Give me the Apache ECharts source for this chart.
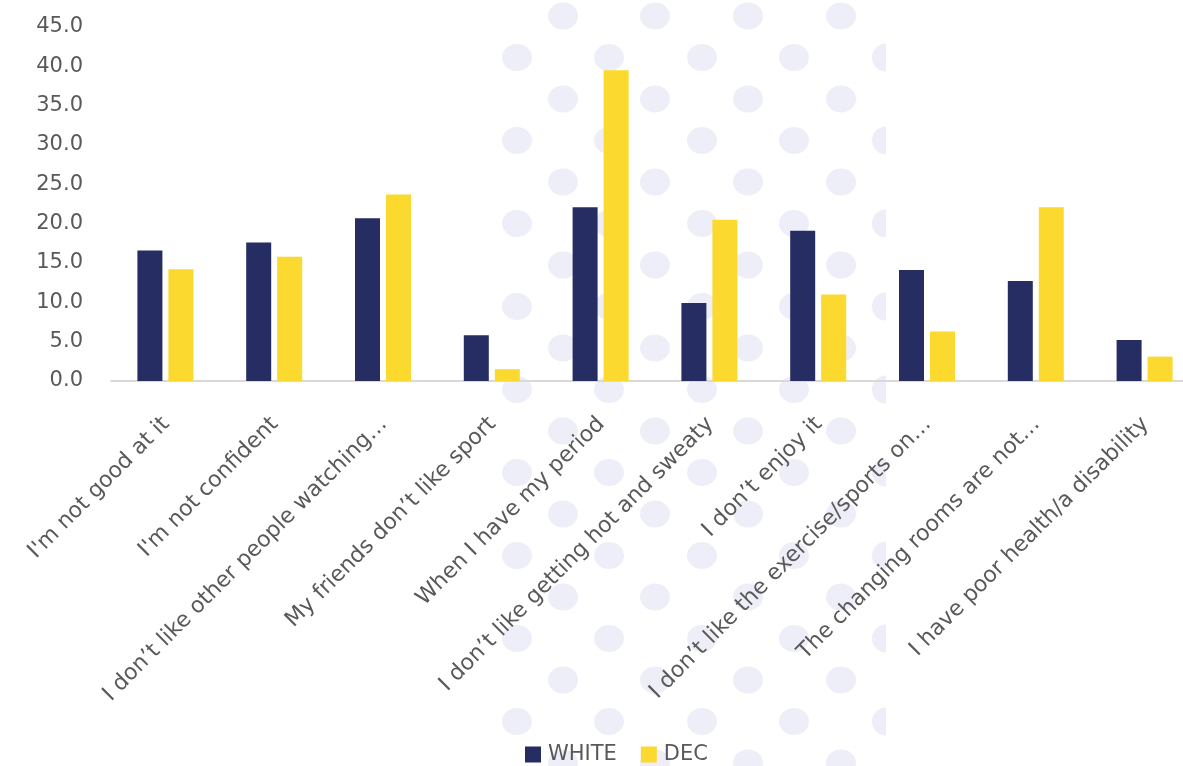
<!DOCTYPE html>
<html>
<head>
<meta charset="utf-8">
<script src="https://cdn.jsdelivr.net/npm/echarts@6/dist/echarts.min.js"></script>
<style>
  html, body { margin: 0; padding: 0; background: #ffffff; overflow: hidden; }
  #chart { width: 1200px; height: 766px; }
</style>
</head>
<body>
<div id="chart"></div>
<script>
// Reasons given for not taking part in sport, by group (%)
const categories = [
  "I'm not good at it",
  "I'm not confident",
  "I don’t like other people watching…",
  "My friends don’t like sport",
  "When I have my period",
  "I don’t like getting hot and sweaty",
  "I don’t enjoy it",
  "I don’t like the exercise/sports on…",
  "The changing rooms are not…",
  "I have poor health/a disability"
];
const whiteValues = [16.6, 17.6, 20.7, 5.8, 22.1, 9.9, 19.1, 14.1, 12.7, 5.2];
const decValues   = [14.2, 15.8, 23.7, 1.5, 39.5, 20.5, 11.0, 6.3, 22.1, 3.1];
const seriesNames = ['WHITE', 'DEC'];

const NAVY = '#262d63';
const YELLOW = '#fbd92e';
const TEXT = '#595959';
const FONT = 'DejaVu Sans';
const FONT_SIZE = 21;

// Decorative dotted backdrop behind the plot
const dots = [];
const DOT = '#eeeef8';
for (let k = 0; k < 19; k++) {
  const cy = 16 + 41.5 * k;
  const xs = (k % 2 === 0) ? [563, 655, 748, 841] : [517, 609, 702, 794];
  xs.forEach(cx => dots.push({
    type: 'ellipse', silent: true, z: -10,
    shape: { cx, cy, rx: 15, ry: 13.5 },
    style: { fill: DOT }
  }));
  if (k % 2 === 1) {
    dots.push({
      type: 'sector', silent: true, z: -10,
      shape: { cx: 886, cy, r0: 0, r: 14, startAngle: Math.PI / 2, endAngle: Math.PI * 3 / 2 },
      style: { fill: DOT }
    });
  }
}

const chart = echarts.init(document.getElementById('chart'), null, { renderer: 'canvas' });
chart.setOption({
  animation: false,
  backgroundColor: '#ffffff',
  textStyle: { fontFamily: FONT },
  graphic: dots,
  grid: { left: 111, top: 27, right: 1, height: 354, containLabel: false },
  legend: {
    data: seriesNames,
    left: 520,
    top: 739,
    itemWidth: 16,
    itemHeight: 16,
    itemGap: 24,
    icon: 'rect',
    textStyle: { color: TEXT, fontSize: FONT_SIZE, fontFamily: FONT, padding: [0, 0, 0, 2] }
  },
  xAxis: {
    type: 'category',
    data: categories,
    axisLine: { lineStyle: { color: '#d9d9d9', width: 2 } },
    axisTick: { show: false },
    axisLabel: {
      interval: 0,
      rotate: 45,
      margin: 25,
      align: 'right',
      verticalAlign: 'top',
      padding: [0, 10, 0, 0],
      color: TEXT,
      fontSize: 22,
      fontFamily: FONT
    }
  },
  yAxis: {
    type: 'value',
    min: 0,
    max: 45,
    interval: 5,
    splitLine: { show: false },
    axisLine: { show: false },
    axisTick: { show: false },
    axisLabel: {
      color: TEXT,
      fontSize: FONT_SIZE,
      fontFamily: FONT,
      margin: 28,
      formatter: v => v.toFixed(1)
    }
  },
  series: [
    {
      name: seriesNames[0],
      type: 'bar',
      data: whiteValues,
      barWidth: 25,
      barGap: '24%',
      itemStyle: { color: NAVY }
    },
    {
      name: seriesNames[1],
      type: 'bar',
      data: decValues,
      barWidth: 25,
      barGap: '24%',
      itemStyle: { color: YELLOW }
    }
  ]
});
</script>
</body>
</html>
